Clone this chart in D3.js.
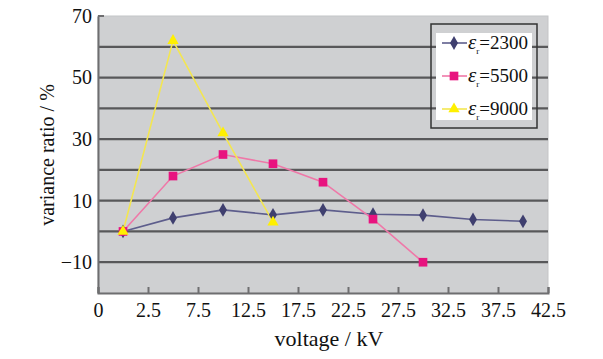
<!DOCTYPE html>
<html>
<head>
<meta charset="utf-8">
<script src="https://cdn.jsdelivr.net/npm/d3@7"></script>
<style>
  body { margin: 0; background: #fff; }
  text { font-family: "Liberation Serif", "DejaVu Serif", serif; fill: #111; }
</style>
</head>
<body>
<div id="viz"></div>
<script>
// chart data
var categories = ["1", "5", "10", "15", "20", "25", "30", "35", "40"];
var xTickLabels = ["0", "2.5", "7.5", "12.5", "17.5", "22.5", "27.5", "32.5", "37.5", "42.5"];
var yTickValues = [70, 50, 30, 10, -10];
var yGridValues = [60, 50, 40, 30, 20, 10, 0, -10];

var er2300 = [0, 4.4, 7, 5.4, 7, 5.6, 5.3, 3.9, 3.3];
var er5500 = [0, 18, 25, 22, 16, 4, -10];
var er9000 = [0, 62, 32, 3];

var seriesNames = ["2300", "5500", "9000"];

var width = 603, height = 359;
var plotLeft = 98, plotRight = 548, plotTop = 16, plotBottom = 293;

var svg = d3.select("#viz")
	.append("svg")
		.attr("width", width)
		.attr("height", height);

var x = d3.scaleBand().domain(categories).range([plotLeft, plotRight]);
var xEdge = d3.scaleLinear().domain([0, categories.length]).range([plotLeft, plotRight]);
var y = d3.scaleLinear().domain([-20, 70]).range([plotBottom, plotTop]);

// plot background
svg.append("rect")
	.attr("x", plotLeft).attr("y", plotTop)
	.attr("width", plotRight - plotLeft).attr("height", plotBottom - plotTop)
	.attr("fill", "#cfd0d2")
	.attr("stroke", "#c4c5c7");

// grid lines
svg.selectAll("line.grid")
	.data(yGridValues)
	.enter()
	.append("line")
		.attr("class", "grid")
		.attr("x1", plotLeft).attr("x2", plotRight)
		.attr("y1", function (d) { return y(d); })
		.attr("y2", function (d) { return y(d); })
		.attr("stroke", "#58585a")
		.attr("stroke-width", 2.2);

// axes
var yAxis = svg.append("g")
	.attr("transform", "translate(" + plotLeft + ",0)")
	.call(d3.axisLeft(y).tickValues(yTickValues).tickSize(0).tickPadding(6)
		.tickFormat(function (d) { return d < 0 ? "\u2212" + Math.abs(d) : d; }));
yAxis.select(".domain").attr("stroke", "#6e6e70").attr("stroke-width", 2);
yAxis.selectAll("text").style("font-size", "20px").attr("fill", "#111");

svg.append("line")
	.attr("x1", plotLeft).attr("x2", plotLeft + 6)
	.attr("y1", y(70)).attr("y2", y(70))
	.attr("stroke", "#6e6e70").attr("stroke-width", 2);

var xAxis = svg.append("g")
	.attr("transform", "translate(0," + plotBottom + ")")
	.call(d3.axisBottom(xEdge).tickValues(d3.range(categories.length + 1))
		.tickSize(-6).tickPadding(10)
		.tickFormat(function (d, i) { return xTickLabels[i]; }));
xAxis.select(".domain").attr("stroke", "#6e6e70").attr("stroke-width", 2);
xAxis.selectAll(".tick line").attr("stroke", "#6e6e70").attr("stroke-width", 2);
xAxis.selectAll("text").style("font-size", "20px").attr("fill", "#111");

// axis titles
svg.append("text")
	.attr("transform", "translate(54,155) rotate(-90)")
	.attr("text-anchor", "middle")
	.style("font-size", "20px")
	.text("variance ratio / %");

svg.append("text")
	.attr("x", 329).attr("y", 346)
	.attr("text-anchor", "middle")
	.style("font-size", "22px")
	.text("voltage / kV");

// series
var series = [
	{ values: er2300, line: "#5d5d8c", mark: "#3f3f6f", symbol: d3.symbolDiamond, size: 55 },
	{ values: er5500, line: "#ef78a8", mark: "#e8137f", symbol: d3.symbolSquare, size: 75 },
	{ values: er9000, line: "#f3e651", mark: "#fff000", symbol: d3.symbolTriangle, size: 55 }
];

var line = d3.line()
	.x(function (d, i) { return x(categories[i]) + x.bandwidth() / 2; })
	.y(function (d) { return y(d); });

series.forEach(function (s) {
	svg.append("path")
		.datum(s.values)
		.attr("d", line)
		.attr("fill", "none")
		.attr("stroke", s.line)
		.attr("stroke-width", 1.6);
});

series.forEach(function (s) {
	svg.selectAll(null)
		.data(s.values)
		.enter()
		.append("path")
			.attr("d", d3.symbol().type(s.symbol).size(s.size))
			.attr("transform", function (d, i) {
				return "translate(" + (x(categories[i]) + x.bandwidth() / 2) + "," + y(d) + ")";
			})
			.attr("fill", s.mark);
});

// legend
var legend = svg.append("g");
legend.append("rect")
	.attr("x", 431).attr("y", 24).attr("width", 106).attr("height", 104)
	.attr("fill", "none").attr("stroke", "#333").attr("stroke-width", 1.5);
legend.append("rect")
	.attr("x", 436).attr("y", 33).attr("width", 96).attr("height", 87)
	.attr("fill", "#fff");

var legendY = [43, 76, 109];
series.forEach(function (s, i) {
	var g = legend.append("g").attr("transform", "translate(0," + legendY[i] + ")");
	g.append("line")
		.attr("x1", 442).attr("x2", 467)
		.attr("stroke", s.line).attr("stroke-width", 1.6);
	g.append("path")
		.attr("d", d3.symbol().type(s.symbol).size(s.size))
		.attr("transform", "translate(454,0)")
		.attr("fill", s.mark);
	var t = g.append("text")
		.attr("x", 468).attr("y", 6)
		.style("font-size", "19px");
	t.append("tspan").style("font-style", "italic").style("font-size", "21px").text("\u03b5");
	t.append("tspan").attr("dy", 5).style("font-size", "9px").text("r");
	t.append("tspan").attr("dy", -5).text("=" + seriesNames[i]);
});
</script>
</body>
</html>
